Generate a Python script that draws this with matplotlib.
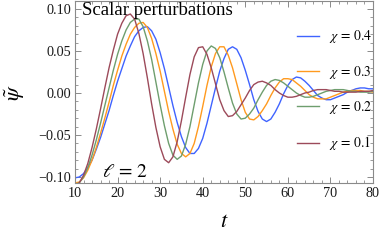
import matplotlib
matplotlib.use("Agg")
import matplotlib.pyplot as plt
from matplotlib.ticker import MultipleLocator

plt.rcParams['font.family'] = ['Liberation Serif', 'DejaVu Serif']
plt.rcParams['mathtext.fontset'] = 'stix'

t = list(range(10, 81))

chi_labels = [r'$\chi\,=\,0.4$', r'$\chi\,=\,0.3$', r'$\chi\,=\,0.2$', r'$\chi\,=\,0.1$']
colors = ['#3f63ff', '#ff9a1f', '#6e9e6e', '#9c4a5a']

psi_chi04 = [
    -0.101, -0.100, -0.096, -0.089, -0.080, -0.067, -0.053, -0.037, -0.021, -0.003,
    0.014, 0.029, 0.044, 0.056, 0.067, 0.074, 0.078, 0.079, 0.074, 0.064,
    0.048, 0.029, 0.007, -0.015, -0.035, -0.052, -0.065, -0.072, -0.072, -0.066,
    -0.054, -0.036, -0.015, 0.006, 0.026, 0.041, 0.052, 0.055, 0.052, 0.042,
    0.027, 0.010, -0.008, -0.022, -0.031, -0.034, -0.031, -0.023, -0.013, -0.001,
    0.009, 0.016, 0.019, 0.018, 0.014, 0.009, 0.003, -0.003, -0.006, -0.008,
    -0.008, -0.006, -0.004, -0.002, 0.001, 0.003, 0.005, 0.006, 0.006, 0.005,
    0.005]

psi_chi03 = [
    -0.107, -0.106, -0.101, -0.092, -0.080, -0.065, -0.048, -0.030, -0.011, 0.009,
    0.027, 0.044, 0.058, 0.070, 0.078, 0.083, 0.084, 0.078, 0.065, 0.047,
    0.026, 0.002, -0.022, -0.043, -0.061, -0.072, -0.076, -0.072, -0.060, -0.040,
    -0.016, 0.009, 0.031, 0.047, 0.055, 0.055, 0.045, 0.030, 0.011, -0.008,
    -0.023, -0.031, -0.032, -0.028, -0.021, -0.013, -0.003, 0.006, 0.013, 0.017,
    0.017, 0.016, 0.012, 0.008, 0.003, -0.002, -0.005, -0.007, -0.007, -0.007,
    -0.005, -0.003, -0.001, 0.001, 0.002, 0.003, 0.003, 0.003, 0.002, 0.002,
    0.001]

psi_chi02 = [
    -0.109, -0.107, -0.100, -0.089, -0.074, -0.056, -0.036, -0.015, 0.006, 0.027,
    0.046, 0.062, 0.075, 0.084, 0.088, 0.088, 0.079, 0.062, 0.040, 0.013,
    -0.014, -0.039, -0.060, -0.074, -0.079, -0.075, -0.061, -0.040, -0.014, 0.012,
    0.034, 0.050, 0.056, 0.053, 0.042, 0.025, 0.006, -0.012, -0.025, -0.031,
    -0.030, -0.025, -0.018, -0.008, 0.001, 0.009, 0.014, 0.016, 0.015, 0.012,
    0.008, 0.004, -0.000, -0.003, -0.005, -0.005, -0.004, -0.002, -0.000, 0.002,
    0.003, 0.004, 0.004, 0.004, 0.003, 0.002, 0.002, 0.001, 0.001, 0.001,
    0.002]

psi_chi01 = [
    -0.110, -0.107, -0.098, -0.084, -0.065, -0.043, -0.019, 0.006, 0.030, 0.051,
    0.070, 0.083, 0.092, 0.094, 0.088, 0.071, 0.047, 0.018, -0.013, -0.041,
    -0.064, -0.079, -0.083, -0.076, -0.058, -0.033, -0.005, 0.022, 0.043, 0.054,
    0.055, 0.046, 0.030, 0.011, -0.008, -0.021, -0.028, -0.027, -0.022, -0.014,
    -0.006, 0.003, 0.010, 0.013, 0.014, 0.012, 0.009, 0.004, 0.000, -0.003,
    -0.005, -0.005, -0.004, -0.002, -0.000, 0.001, 0.003, 0.004, 0.004, 0.004,
    0.003, 0.002, 0.002, 0.001, 0.001, 0.001, 0.001, 0.002, 0.002, 0.002,
    0.003]

series = [psi_chi04, psi_chi03, psi_chi02, psi_chi01]

fig = plt.figure(figsize=(3.83, 2.40), dpi=100)
ax = fig.add_axes([75/383, 1 - 183.3/240, 298/383, 182.3/240])

for ys, c, lab in zip(series, colors, chi_labels):
    ax.plot(t, ys, color=c, lw=1.0, label=lab)

ax.set_xlim(10, 80)
ax.set_ylim(-0.1075, 0.1095)

frame_col = '#8a8a8a'
for s in ax.spines.values():
    s.set_color(frame_col)
    s.set_linewidth(0.8)

ax.xaxis.set_major_locator(MultipleLocator(10))
ax.xaxis.set_minor_locator(MultipleLocator(2))
ax.yaxis.set_major_locator(MultipleLocator(0.05))
ax.yaxis.set_minor_locator(MultipleLocator(0.01))
ax.tick_params(which='both', direction='in', top=True, right=True, color=frame_col,
               labelsize=10.3, labelcolor='#1a1a1a')
ax.tick_params(which='major', length=4.5, width=0.7, pad=3)
ax.tick_params(which='minor', length=2.5, width=0.6)
ax.yaxis.set_major_formatter(matplotlib.ticker.FuncFormatter(
    lambda v, p: ('\u2212' if v < -1e-9 else '') + f'{abs(v):.2f}'))

ax.set_xlabel(r'$t$', fontsize=16, labelpad=9)
ax.set_ylabel(r'$\tilde{\psi}$', fontsize=16, labelpad=8)

ax.text(0.025, 0.995, 'Scalar perturbations', transform=ax.transAxes,
        fontsize=13.5, va='top', ha='left')
ax.text(0.09, 0.012, r'$\ell\,=\,2$', transform=ax.transAxes,
        fontsize=14, va='bottom', ha='left')

leg = ax.legend(loc='center right', bbox_to_anchor=(0.995, 0.51), frameon=False,
                fontsize=9.8, handlelength=1.6, handletextpad=0.7,
                labelspacing=1.35, borderaxespad=0, borderpad=0)

fig.savefig('out.png', dpi=100)
